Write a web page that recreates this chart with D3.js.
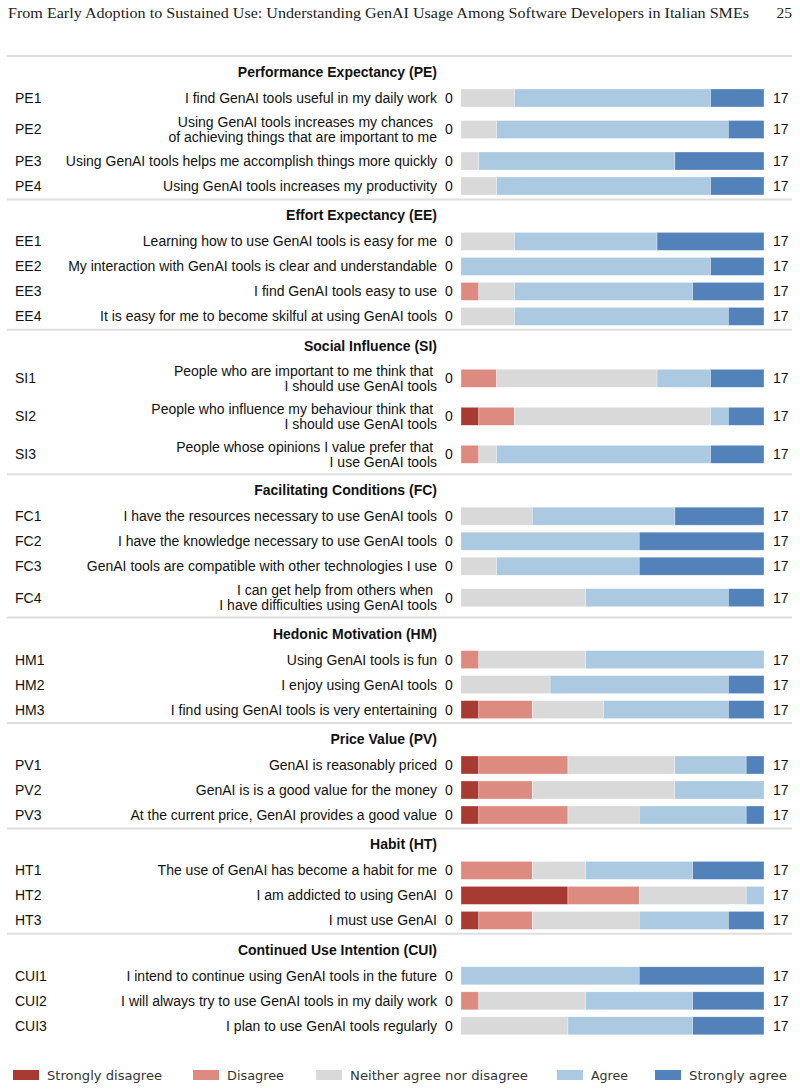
<!DOCTYPE html>
<html>
<head>
<meta charset="utf-8">
<script src="https://cdn.jsdelivr.net/npm/d3@7"></script>
<style>
  body { margin: 0; background: #fff; }
  text { font-family: "Liberation Sans", Arial, sans-serif; }
</style>
</head>
<body>
<div id="chart"></div>
<script>
// Likert responses (17 respondents), one value per item
const groups = ["Performance Expectancy (PE)", "Effort Expectancy (EE)", "Social Influence (SI)",
  "Facilitating Conditions (FC)", "Hedonic Motivation (HM)", "Price Value (PV)", "Habit (HT)",
  "Continued Use Intention (CUI)"]
const groupSizes = [4, 4, 3, 4, 3, 3, 3, 3]

const codes = ["PE1", "PE2", "PE3", "PE4", "EE1", "EE2", "EE3", "EE4", "SI1", "SI2", "SI3",
  "FC1", "FC2", "FC3", "FC4", "HM1", "HM2", "HM3", "PV1", "PV2", "PV3", "HT1", "HT2", "HT3",
  "CUI1", "CUI2", "CUI3"]

const statements = [
  "I find GenAI tools useful in my daily work",
  "Using GenAI tools increases my chances|of achieving things that are important to me",
  "Using GenAI tools helps me accomplish things more quickly",
  "Using GenAI tools increases my productivity",
  "Learning how to use GenAI tools is easy for me",
  "My interaction with GenAI tools is clear and understandable",
  "I find GenAI tools easy to use",
  "It is easy for me to become skilful at using GenAI tools",
  "People who are important to me think that|I should use GenAI tools",
  "People who influence my behaviour think that|I should use GenAI tools",
  "People whose opinions I value prefer that|I use GenAI tools",
  "I have the resources necessary to use GenAI tools",
  "I have the knowledge necessary to use GenAI tools",
  "GenAI tools are compatible with other technologies I use",
  "I can get help from others when|I have difficulties using GenAI tools",
  "Using GenAI tools is fun",
  "I enjoy using GenAI tools",
  "I find using GenAI tools is very entertaining",
  "GenAI is reasonably priced",
  "GenAI is is a good value for the money",
  "At the current price, GenAI provides a good value",
  "The use of GenAI has become a habit for me",
  "I am addicted to using GenAI",
  "I must use GenAI",
  "I intend to continue using GenAI tools in the future",
  "I will always try to use GenAI tools in my daily work",
  "I plan to use GenAI tools regularly"
]

const levels = ["Strongly disagree", "Disagree", "Neither agree nor disagree", "Agree", "Strongly agree"]
const stronglyDisagree = [0,0,0,0, 0,0,0,0, 0,1,0, 0,0,0,0, 0,0,1, 1,1,1, 0,6,1, 0,0,0]
const disagree         = [0,0,0,0, 0,0,1,0, 2,2,1, 0,0,0,0, 1,0,3, 5,3,5, 4,4,3, 0,1,0]
const neutral          = [3,2,1,2, 3,0,2,3, 9,11,1, 4,0,2,7, 6,5,4, 6,8,4, 3,6,6, 0,6,6]
const agree            = [11,13,11,12, 8,14,10,12, 3,1,12, 8,10,8,8, 10,10,7, 4,5,6, 6,1,5, 10,6,7]
const stronglyAgree    = [3,2,5,3, 6,3,4,2, 3,2,3, 5,7,7,2, 0,2,2, 1,0,1, 4,0,2, 7,4,4]
const total = 17

const colors = ["#a83b31", "#dd8a81", "#d9d9d9", "#abc9e0", "#5282b9"]

const width = 800, height = 1090

const svg = d3.select("#chart").append("svg")
  .attr("width", width)
  .attr("height", height)

// page header
svg.append("text")
  .attr("x", 8).attr("y", 18)
  .style("font-family", "'Liberation Serif', serif")
  .style("font-size", "15.5px")
  .attr("fill", "#222")
  .attr("textLength", 741).attr("lengthAdjust", "spacingAndGlyphs")
  .text("From Early Adoption to Sustained Use: Understanding GenAI Usage Among Software Developers in Italian SMEs")
svg.append("text")
  .attr("x", 792).attr("y", 18)
  .attr("text-anchor", "end")
  .style("font-family", "'Liberation Serif', serif")
  .style("font-size", "15.5px")
  .attr("fill", "#222")
  .text("25")

// build rows with vertical layout
let rows = [], titles = [], lines = []
let y = 56, idx = 0
groups.forEach(function(g, gi) {
  lines.push(y)
  titles.push({ name: g, y: y + 16 })
  y += 16 + 13.5
  for (let k = 0; k < groupSizes[gi]; k++) {
    let parts = statements[idx].split("|")
    let h = parts.length > 1 ? 38 : 25
    let counts = [stronglyDisagree[idx], disagree[idx], neutral[idx], agree[idx], stronglyAgree[idx]]
    rows.push({ code: codes[idx], parts: parts, y: y + h / 2, counts: counts })
    y += h
    idx++
  }
  y += 0.9
})

const x = d3.scaleLinear().domain([0, total]).range([461, 764])

// separators
svg.selectAll(".sep")
  .data(lines)
  .enter().append("line")
  .attr("class", "sep")
  .attr("x1", 7).attr("x2", 792)
  .attr("y1", d => d).attr("y2", d => d)
  .attr("stroke", "#dedede")
  .attr("stroke-width", 2)

// group titles
svg.selectAll(".title")
  .data(titles)
  .enter().append("text")
  .attr("class", "title")
  .attr("x", 437).attr("y", d => d.y)
  .attr("dy", "0.35em")
  .attr("text-anchor", "end")
  .style("font-size", "14px")
  .style("font-weight", "bold")
  .attr("fill", "#111")
  .text(d => d.name)

const row = svg.selectAll(".row")
  .data(rows)
  .enter().append("g")
  .attr("class", "row")
  .attr("transform", d => "translate(0," + d.y + ")")

row.append("text")
  .attr("x", 15).attr("dy", "0.35em")
  .style("font-size", "14px")
  .attr("fill", "#111")
  .text(d => d.code)

row.each(function(d) {
  const n = d.parts.length
  d3.select(this).selectAll(".stmt")
    .data(d.parts)
    .enter().append("text")
    .attr("class", "stmt")
    .attr("x", (p, i) => i < n - 1 ? 433.1 : 437)
    .attr("y", (p, i) => (i - (n - 1) / 2) * 15)
    .attr("dy", "0.35em")
    .attr("text-anchor", "end")
    .style("font-size", "14px")
    .attr("fill", "#111")
    .text(p => p)
})

row.append("text")
  .attr("x", 445).attr("dy", "0.35em")
  .style("font-size", "14px")
  .attr("fill", "#111")
  .text("0")

row.append("text")
  .attr("x", 773).attr("dy", "0.35em")
  .style("font-size", "14px")
  .attr("fill", "#111")
  .text(total)

// stacked segments
row.each(function(d) {
  let acc = 0
  let segs = d.counts.map(function(c, i) {
    let s = { x0: acc, x1: acc + c, level: i }
    acc += c
    return s
  }).filter(s => s.x1 > s.x0)
  d3.select(this).selectAll(".seg")
    .data(segs)
    .enter().append("rect")
    .attr("class", "seg")
    .attr("x", s => x(s.x0))
    .attr("width", s => x(s.x1) - x(s.x0))
    .attr("y", -9)
    .attr("height", 18)
    .attr("fill", s => colors[s.level])
    .attr("stroke", "#fff")
    .attr("stroke-opacity", 0.5)
    .attr("stroke-width", 0.6)
})

// legend
const legendX = [13, 193, 316, 557, 655]
const legendW = [115, 57, 178, 37, 98]
const legend = svg.selectAll(".legend")
  .data(levels)
  .enter().append("g")
  .attr("class", "legend")
  .attr("transform", (d, i) => "translate(" + legendX[i] + ",1075)")

legend.append("rect")
  .attr("x", 0).attr("y", -5)
  .attr("width", 26).attr("height", 10)
  .attr("fill", (d, i) => colors[i])

legend.append("text")
  .attr("x", 34).attr("dy", "0.35em")
  .style("font-family", "'DejaVu Sans', sans-serif")
  .style("font-size", "13px")
  .attr("fill", "#333")
  .attr("textLength", (d, i) => legendW[i]).attr("lengthAdjust", "spacingAndGlyphs")
  .text(d => d)
</script>
</body>
</html>
